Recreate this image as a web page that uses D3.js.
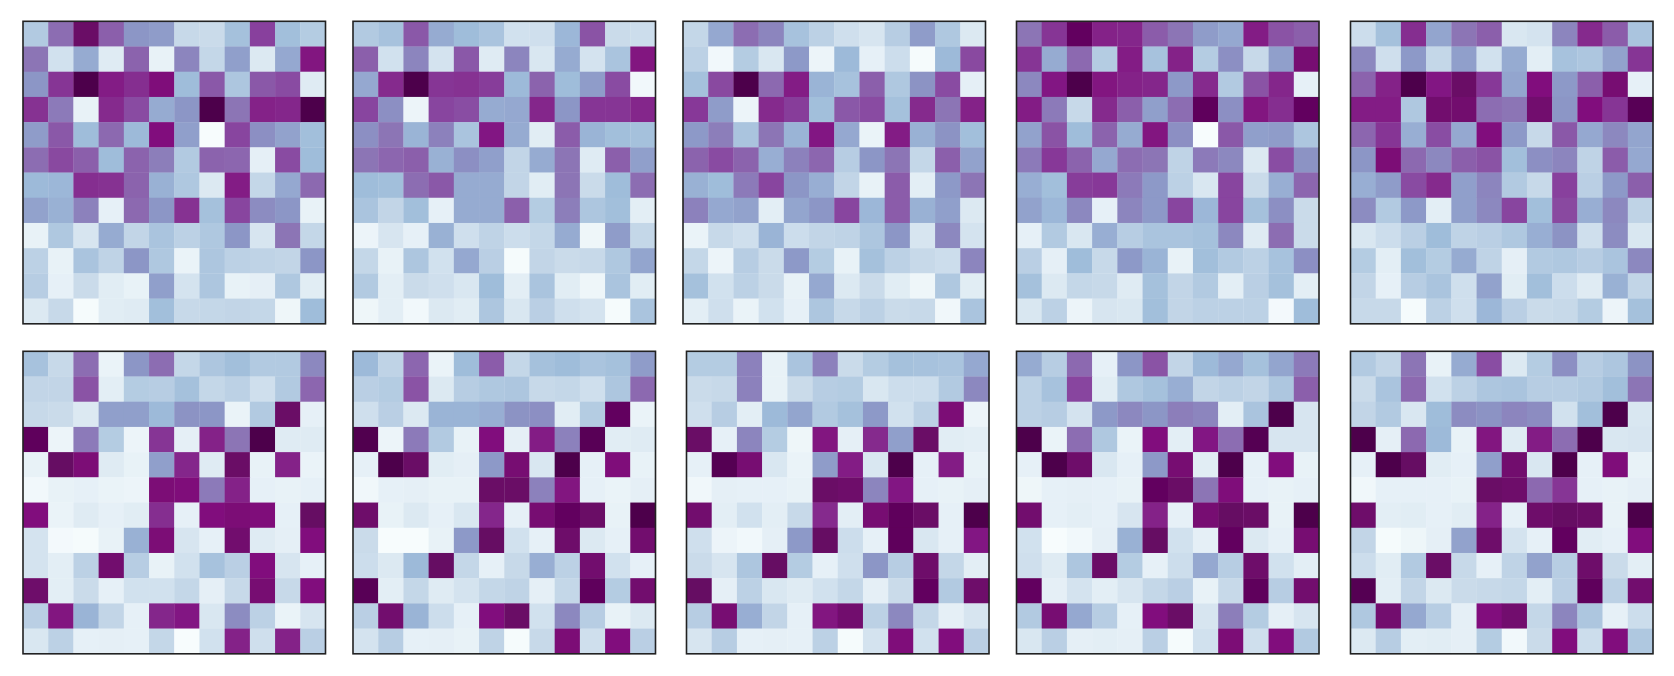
<!DOCTYPE html>
<html>
<head>
<meta charset="utf-8">
<script src="https://cdn.jsdelivr.net/npm/d3@7"></script>
<style>
  html, body { margin: 0; padding: 0; background: #fff; }
  svg { display: block; }
</style>
</head>
<body>
<script>
// cell values, 0-100, one row per line
const panel1 = [
  [30,62,93,66,50,48,22,21,35,75,36,29],
  [60,18,43,13,65,8,55,23,47,14,44,86],
  [50,78,100,84,80,88,37,68,32,68,72,13],
  [79,58,8,81,72,43,50,100,60,83,82,100],
  [48,68,37,63,38,87,47,0,74,52,46,36],
  [62,73,66,37,65,57,30,65,64,10,72,37],
  [38,39,80,79,65,41,31,14,84,23,44,63],
  [46,41,56,9,63,50,79,35,74,53,50,8],
  [8,31,16,43,24,33,26,31,50,16,60,23],
  [26,8,33,25,50,31,7,32,26,25,24,50],
  [28,9,21,12,8,47,17,32,8,10,31,12],
  [14,22,1,12,13,36,22,23,24,23,5,37]
];
const panel2 = [
  [30,34,68,43,37,33,18,19,39,70,21,20],
  [66,18,55,17,68,13,55,15,43,17,33,86],
  [44,81,100,78,79,76,38,65,37,48,72,3],
  [74,52,6,74,71,43,44,82,50,78,78,82],
  [52,60,40,56,33,85,43,12,67,40,36,35],
  [60,64,66,41,52,47,24,43,60,13,66,47],
  [37,36,62,68,43,43,24,12,60,21,37,62],
  [33,24,36,9,43,43,66,29,57,32,36,11],
  [6,16,9,41,19,25,20,23,43,5,48,23],
  [23,8,32,18,44,27,1,24,21,22,31,45],
  [30,11,21,19,15,37,11,33,12,5,33,12],
  [5,11,3,14,12,32,15,27,19,17,1,33]
];
const panel3 = [
  [23,44,62,55,34,26,19,16,28,48,31,14],
  [26,3,29,15,49,6,38,9,20,1,38,73],
  [35,73,100,63,84,40,34,66,31,51,72,10],
  [77,48,6,81,76,36,68,72,35,81,60,83],
  [49,57,33,60,40,85,44,7,84,41,51,36],
  [65,72,65,42,56,64,28,50,60,23,66,46],
  [41,37,58,74,50,42,24,8,67,11,49,60],
  [56,44,46,11,45,50,74,39,67,41,47,14],
  [7,22,19,40,20,24,25,32,50,16,54,17],
  [23,6,28,21,49,29,8,35,26,22,20,55],
  [35,18,26,21,8,44,14,21,12,5,31,12],
  [11,19,7,18,9,32,22,26,21,22,4,33]
];
const panel4 = [
  [60,78,95,83,82,67,60,48,44,84,70,66],
  [78,43,63,29,84,34,83,29,52,22,47,90],
  [54,85,100,86,83,82,49,81,30,70,82,9],
  [84,58,22,81,66,47,62,96,52,86,80,95],
  [46,70,37,65,43,86,52,0,68,47,48,32],
  [58,77,65,44,62,60,25,58,54,14,71,51],
  [42,36,76,77,58,49,26,15,74,21,42,64],
  [46,39,54,9,55,49,74,39,74,35,52,21],
  [9,30,15,42,28,33,33,35,54,13,62,21],
  [27,10,37,22,49,40,8,36,30,26,34,52],
  [35,14,23,22,13,35,24,30,11,27,35,11],
  [15,26,6,16,15,36,24,26,26,26,2,37]
];
const panel5 = [
  [20,35,80,45,60,66,15,17,55,81,67,33],
  [54,19,49,23,47,18,43,11,34,32,46,78],
  [65,83,100,85,93,77,45,87,49,66,90,9],
  [84,84,31,91,91,62,60,91,50,87,78,97],
  [64,78,42,71,44,87,49,22,68,44,54,45],
  [50,89,63,54,66,70,36,52,55,25,67,44],
  [42,48,72,81,47,55,30,22,75,27,49,66],
  [53,30,49,11,47,54,74,36,73,42,54,25],
  [15,20,27,37,25,27,31,42,51,19,53,15],
  [29,11,36,29,43,25,10,30,31,28,33,54],
  [24,9,28,33,19,46,12,36,20,13,41,24],
  [22,22,1,26,19,39,27,21,22,29,6,35]
];
const panel6 = [
  [34,22,62,7,50,62,23,32,36,30,30,54],
  [24,24,70,11,29,28,35,23,26,19,30,64],
  [22,21,14,47,47,38,51,50,7,30,93,9],
  [96,6,58,29,6,78,10,83,60,100,13,13],
  [8,94,89,13,8,47,82,13,93,8,83,7],
  [3,8,9,7,6,89,88,58,83,9,8,9],
  [87,7,13,9,12,80,9,87,89,88,9,94],
  [17,2,1,8,41,89,16,9,91,13,10,87],
  [17,11,26,91,28,8,18,34,27,87,16,9],
  [92,11,21,9,18,18,23,10,22,90,22,87],
  [27,86,40,24,9,82,85,15,53,26,7,16],
  [15,26,9,10,9,23,0,18,83,19,83,27]
];
const panel7 = [
  [38,25,64,7,37,67,23,35,37,33,35,48],
  [27,29,70,14,28,31,32,22,23,19,32,63],
  [19,27,14,40,40,42,51,52,12,29,95,7],
  [99,6,58,30,8,87,10,84,56,97,12,13],
  [9,100,93,12,10,49,90,15,100,9,88,8],
  [4,9,10,8,8,93,93,56,86,9,7,10],
  [92,8,14,9,15,82,9,90,95,93,8,100],
  [21,0,0,8,49,94,18,9,92,14,9,91],
  [20,14,38,94,23,9,22,42,26,91,18,9],
  [97,11,23,13,17,23,25,10,23,96,29,91],
  [27,91,40,20,9,87,93,18,54,28,8,14],
  [17,28,9,10,8,25,1,22,89,19,87,27]
];
const panel8 = [
  [29,29,56,8,33,56,21,29,35,34,33,44],
  [21,22,56,8,21,28,29,15,20,20,30,54],
  [19,28,11,38,45,30,35,49,18,26,89,6],
  [93,9,55,29,5,86,10,81,47,93,12,11],
  [9,98,90,15,7,48,84,15,100,9,84,8],
  [4,10,9,9,8,93,92,55,85,9,8,10],
  [91,11,18,11,22,81,11,90,96,93,9,100],
  [19,6,3,10,49,94,20,9,96,15,9,85],
  [21,16,32,94,29,9,19,50,28,92,23,11],
  [94,10,26,15,13,18,23,10,21,95,30,92],
  [28,90,42,24,9,86,91,26,54,23,10,16],
  [16,28,9,10,9,26,1,17,88,18,87,27]
];
const panel9 = [
  [43,28,63,9,50,70,24,38,44,35,45,58],
  [26,34,74,12,31,35,42,24,26,24,32,66],
  [26,28,17,49,54,50,57,55,11,33,100,16],
  [100,7,62,31,7,87,11,85,62,98,16,16],
  [9,100,92,15,9,49,90,12,100,9,87,8],
  [5,9,10,9,8,95,93,60,88,9,8,9],
  [91,9,11,9,16,83,9,90,94,93,8,100],
  [18,0,3,10,41,94,18,10,95,14,9,90],
  [19,13,32,93,29,9,20,44,28,92,18,11],
  [95,10,17,11,16,23,27,8,22,96,28,91],
  [30,90,44,28,9,87,93,16,57,29,10,16],
  [15,27,10,11,10,27,1,18,89,19,87,30]
];
const panel10 = [
  [30,24,60,8,43,71,14,29,52,28,32,51],
  [21,33,63,18,26,32,33,28,28,30,36,60],
  [24,30,15,37,53,51,55,53,18,36,100,15],
  [100,10,63,38,8,86,13,84,62,100,15,16],
  [9,100,94,12,9,47,91,15,100,9,88,8],
  [4,9,9,9,8,93,92,63,78,9,8,10],
  [92,11,12,9,12,83,9,92,94,93,8,100],
  [24,1,5,10,46,92,17,9,95,12,9,87],
  [20,12,30,93,22,9,25,46,28,92,21,11],
  [98,11,24,14,21,22,23,11,27,96,26,91],
  [31,91,44,28,10,87,91,23,55,32,9,20],
  [14,28,11,12,10,29,3,21,87,20,87,31]
];
const panels = [panel1, panel2, panel3, panel4, panel5, panel6, panel7, panel8, panel9, panel10];

const width = 1674;
const height = 676;
const side = 302.5;
const lefts = [23, 353, 683, 1016.5, 1350.5, 23, 353, 686.5, 1016.5, 1350.5];
const tops = [21.3, 21.3, 21.3, 21.3, 21.3, 351.3, 351.3, 351.3, 351.3, 351.3];

const cols = d3.range(12);

// BuPu colour stops spread evenly over the values
const bupu = d3.schemeBuPu[9];
const color = d3.scaleLinear()
  .domain(bupu.map((c, i) => i * 100 / (bupu.length - 1)))
  .range(bupu);

const svg = d3.select("body")
  .append("svg")
  .attr("width", width)
  .attr("height", height);

const defs = svg.append("defs");
defs.append("filter")
  .attr("id", "soft")
  .attr("x", "-2%").attr("y", "-2%")
  .attr("width", "104%").attr("height", "104%")
  .append("feGaussianBlur")
  .attr("stdDeviation", 0.6);

const x = d3.scaleBand().domain(cols).range([0, side]);
const y = d3.scaleBand().domain(cols).range([0, side]);

panels.forEach((panel, p) => {
  const g = svg.append("g")
    .attr("transform", "translate(" + lefts[p] + "," + tops[p] + ")")
    .attr("filter", "url(#soft)");

  panel.forEach((row, r) => {
    g.selectAll(null)
      .data(row)
      .enter()
      .append("rect")
      .attr("x", (d, c) => x(c))
      .attr("y", y(r))
      .attr("width", x.bandwidth() + 0.3)
      .attr("height", y.bandwidth() + 0.3)
      .attr("fill", d => color(d));
  });

  g.append("rect")
    .attr("width", side)
    .attr("height", side)
    .attr("fill", "none")
    .attr("stroke", "#222")
    .attr("stroke-width", 1.6);
});
</script>
</body>
</html>
